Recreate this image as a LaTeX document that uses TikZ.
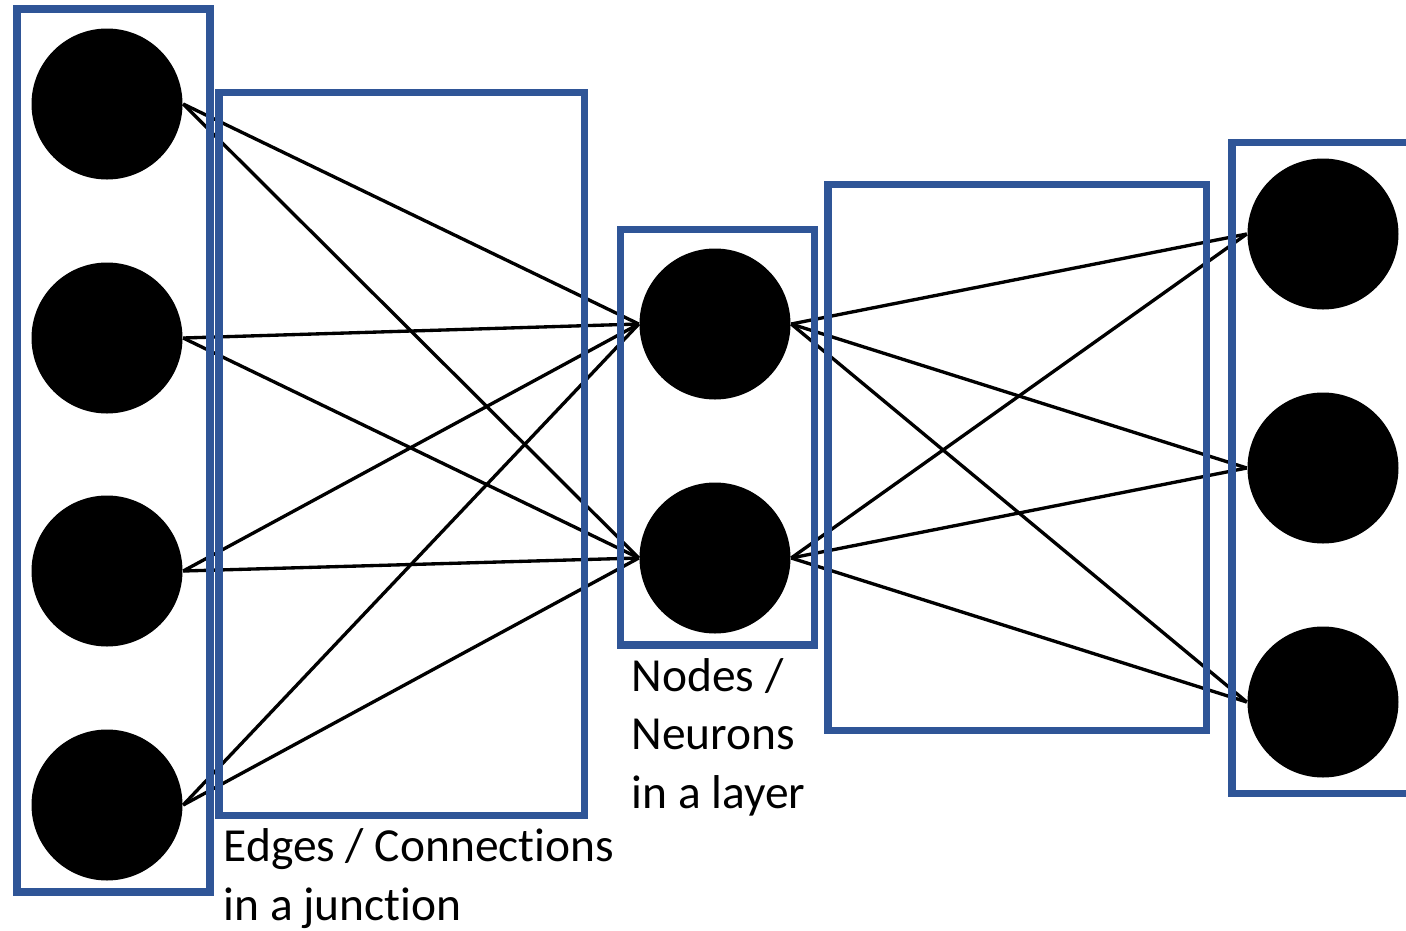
\documentclass[tikz,border=0pt]{standalone}
\usepackage{fontspec}
\setmainfont{Carlito}[Ligatures=NoCommon]
\definecolor{boxblue}{HTML}{2F5597}

\begin{document}
\begin{tikzpicture}[x=0.1mm,y=-0.1mm]
        \tikzstyle{neuron}=[circle,fill=black,inner sep=0pt,minimum size=15.1mm]
        \tikzstyle{wire}=[line width=0.95pt]
        \tikzstyle{layerbox}=[draw=boxblue,line width=2.1pt]
        \tikzstyle{caption}=[align=left,inner sep=0pt,anchor=base west,font=\fontsize{13.5}{16.6}\selectfont]
        \useasboundingbox (0,0) rectangle (1406,931);
        \clip (0,0) rectangle (1406,931);
        % neurons, one column per layer
        \foreach \i/\y in {1/104,2/338,3/571,4/805} \node[neuron] (in\i) at (107,\y) {};
        \foreach \i/\y in {1/324,2/558} \node[neuron] (mid\i) at (715,\y) {};
        \foreach \i/\y in {1/234,2/468,3/702} \node[neuron] (out\i) at (1323,\y) {};
        % fully connected junctions
        \foreach \i in {1,...,4} \foreach \j in {1,2} \draw[wire] (in\i.east) -- (mid\j.west);
        \foreach \i in {1,2} \foreach \j in {1,2,3} \draw[wire] (mid\i.east) -- (out\j.west);
        % frames round layers and junctions
        \draw[layerbox] (17,9) rectangle (210,892);
        \draw[layerbox] (219,92.5) rectangle (584.5,815.5);
        \draw[layerbox] (620.5,229.5) rectangle (814.5,645);
        \draw[layerbox] (828,184.5) rectangle (1206.5,730.5);
        \draw[layerbox] (1232,142.5) rectangle (1440,793.5);
        % labels (base anchor sits on the last line)
        \node[caption] (edgetext) at (223,920) {Edges / Connections\\in a junction};
        \node[caption] (nodetext) at (631,808) {Nodes /\\Neurons\\in a layer};
\end{tikzpicture}
\end{document}
